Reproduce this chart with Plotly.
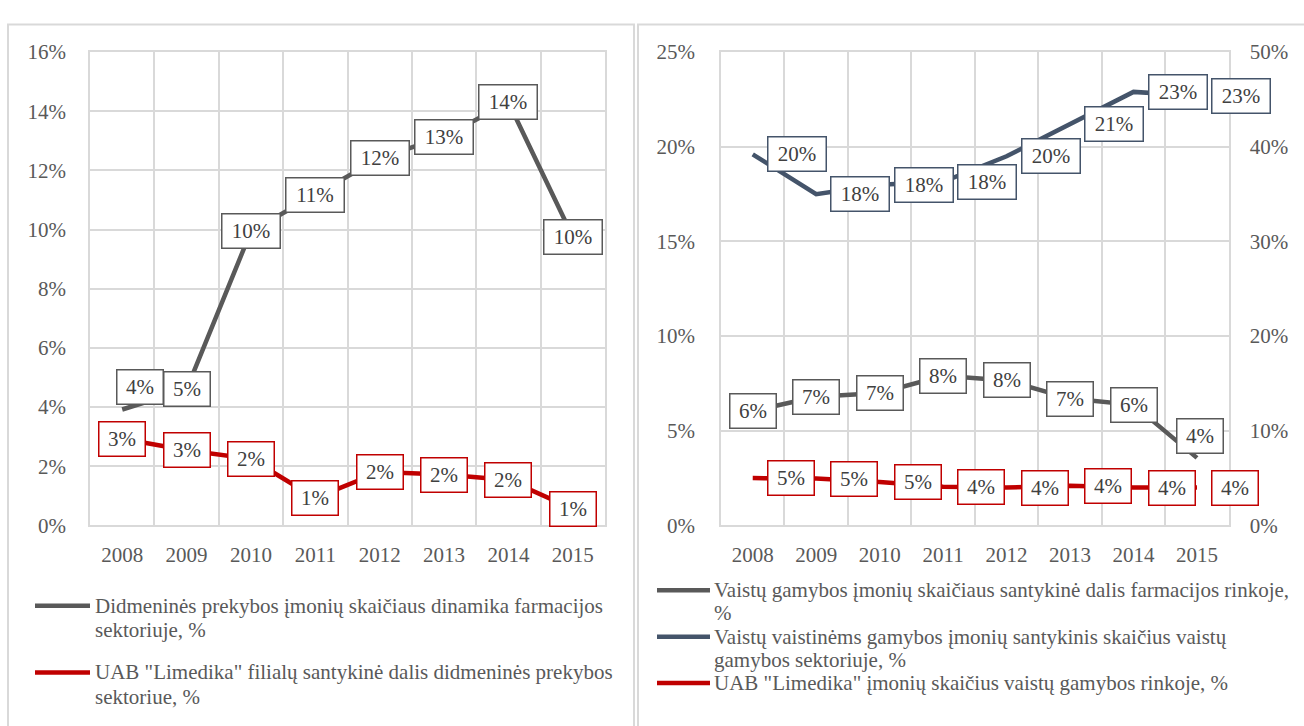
import plotly.graph_objects as go

# ---------------- data ----------------
years = ["2008", "2009", "2010", "2011", "2012", "2013", "2014", "2015"]

# left chart (percent)
wholesale_dynamics = [3.92, 4.6, 9.94, 11.17, 12.42, 13.14, 14.3, 9.76]
limedika_branches = [2.93, 2.54, 2.25, 0.93, 1.81, 1.72, 1.54, 0.56]

# right chart (percent)
manuf_share = [6.05, 6.8, 7.0, 7.9, 7.66, 6.7, 6.37, 3.57]
pharmacy_manuf = [19.6, 17.5, 18.0, 18.15, 19.5, 21.2, 22.9, 22.7]
limedika_manuf = [5.0, 4.95, 4.6, 4.1, 4.0, 4.2, 4.0, 4.0]   # secondary axis

left_ticks = [0, 2, 4, 6, 8, 10, 12, 14, 16]
right_ticks = [0, 5, 10, 15, 20, 25]
right2_ticks = [0, 10, 20, 30, 40, 50]

legend_left = [
    ["Didmeninės prekybos įmonių skaičiaus dinamika farmacijos", "sektoriuje, %"],
    ["UAB \"Limedika\" filialų santykinė dalis didmeninės prekybos", "sektoriue, %"],
]
legend_right = [
    ["Vaistų gamybos įmonių skaičiaus santykinė dalis farmacijos rinkoje,", "%"],
    ["Vaistų vaistinėms gamybos įmonių santykinis skaičius vaistų", "gamybos sektoriuje, %"],
    ["UAB \"Limedika\" įmonių skaičius vaistų gamybos rinkoje, %"],
]

# ---------------- styles ----------------
W, H = 1304, 726
GREY = "#595959"
BLUE = "#44546A"
RED = "#C00000"
GRID = "#D9D9D9"
FONT = "Liberation Serif, Times New Roman, DejaVu Serif, serif"
TICK_COLOR = "#595959"
LABEL_COLOR = "#404040"
FS = 21
LW = 4.5


def px(x):
    return x / W


def py(y):
    return 1 - y / H


def pct(v):
    return f"{v}%"


fig = go.Figure()

fig.add_trace(go.Scatter(x=years, y=wholesale_dynamics, mode="lines", xaxis="x", yaxis="y",
                         line=dict(color=GREY, width=LW), showlegend=False, hoverinfo="skip"))
fig.add_trace(go.Scatter(x=years, y=limedika_branches, mode="lines", xaxis="x", yaxis="y",
                         line=dict(color=RED, width=LW), showlegend=False, hoverinfo="skip"))
fig.add_trace(go.Scatter(x=years, y=manuf_share, mode="lines", xaxis="x2", yaxis="y2",
                         line=dict(color=GREY, width=LW), showlegend=False, hoverinfo="skip"))
fig.add_trace(go.Scatter(x=years, y=pharmacy_manuf, mode="lines", xaxis="x2", yaxis="y2",
                         line=dict(color=BLUE, width=LW), showlegend=False, hoverinfo="skip"))
fig.add_trace(go.Scatter(x=years, y=limedika_manuf, mode="lines", xaxis="x2", yaxis="y3",
                         line=dict(color=RED, width=LW), showlegend=False, hoverinfo="skip"))

annotations = []


def add_labels(values, xref, yref, color, anchor="center", xshifts=None, yshifts=None):
    for i, (cat, v) in enumerate(zip(years, values)):
        txt = f"{int(v + 0.5)}%"
        w = 43 if len(txt) == 2 else 55
        xs = 14 if anchor == "left" else 0
        if xshifts:
            xs += xshifts[i]
        ys = yshifts[i] if yshifts else 0
        annotations.append(dict(
            x=i, y=v, xref=xref, yref=yref, text=txt, showarrow=False,
            xanchor=anchor, yanchor="middle", xshift=xs, yshift=ys,
            width=w, height=31, align="center", valign="middle",
            font=dict(family=FONT, size=FS, color=LABEL_COLOR),
            bgcolor="white", bordercolor=color, borderwidth=1.5, borderpad=1))


add_labels(wholesale_dynamics, "x", "y", GREY,
           xshifts=[18, 0, 0, 0, 0, 0, 0, 0], yshifts=[22, 0, 0, 0, 0, 0, 0, 0])
add_labels(limedika_branches, "x", "y", RED)
add_labels(manuf_share, "x2", "y2", GREY,
           xshifts=[0, 0, 0, 0, 0, 0, 0, 3], yshifts=[0, 0, 0, 0, 0, 0, 0, 22])
add_labels(pharmacy_manuf, "x2", "y2", BLUE, anchor="left")
add_labels(limedika_manuf, "x2", "y3", RED, anchor="left")

shapes = []
# panel borders
shapes.append(dict(type="rect", xref="paper", yref="paper", x0=px(8), x1=px(634), y0=py(740), y1=py(13),
                   line=dict(color=GRID, width=2), layer="below"))
shapes.append(dict(type="rect", xref="paper", yref="paper", x0=px(638), x1=px(1320), y0=py(740), y1=py(13),
                   line=dict(color=GRID, width=2), layer="below"))


def add_legend(entries, colors, sx0, sx1, tx, ys_first, line_gap):
    for entry, color, y0 in zip(entries, colors, ys_first):
        shapes.append(dict(type="line", xref="paper", yref="paper", x0=px(sx0), x1=px(sx1),
                           y0=py(y0), y1=py(y0), line=dict(color=color, width=LW)))
        for k, line in enumerate(entry):
            annotations.append(dict(x=px(tx), y=py(y0 + k * line_gap), xref="paper", yref="paper",
                                    text=line, showarrow=False, xanchor="left", yanchor="middle",
                                    font=dict(family=FONT, size=FS, color=TICK_COLOR)))


add_legend(legend_left, [GREY, RED], 35, 90, 93, [614, 683], 25.5)
add_legend(legend_right, [GREY, BLUE, RED], 657, 710, 712, [598, 646, 694], 24)

tickfont = dict(family=FONT, size=FS, color=TICK_COLOR)
ydom = [py(531), py(41.5)]

xaxis_common = dict(type="category", tickson="boundaries", showgrid=True, gridcolor=GRID, gridwidth=1.5,
                    showline=True, linecolor=GRID, linewidth=1.5, mirror=True, ticks="",
                    tickfont=tickfont, range=[-0.5, 7.5], ticklabelstandoff=10, fixedrange=True)
yaxis_common = dict(showgrid=True, gridcolor=GRID, gridwidth=1.5, zeroline=False, ticks="",
                    showline=True, linecolor=GRID, linewidth=1.5, mirror=True,
                    tickfont=tickfont, tickmode="array", fixedrange=True)

fig.update_layout(
    width=W, height=H, margin=dict(l=0, r=0, t=0, b=0),
    paper_bgcolor="white", plot_bgcolor="white",
    showlegend=False,
    font=dict(family=FONT, size=FS, color=TICK_COLOR),
    xaxis=dict(domain=[px(90), px(605)], anchor="y", **xaxis_common),
    yaxis=dict(domain=ydom, anchor="x", range=[0, 16], tickvals=left_ticks,
               ticktext=[pct(t) for t in left_ticks], ticklabelstandoff=18, **yaxis_common),
    xaxis2=dict(domain=[px(721), px(1228.7)], anchor="y2", **xaxis_common),
    yaxis2=dict(domain=ydom, anchor="x2", range=[0, 25], tickvals=right_ticks,
                ticktext=[pct(t) for t in right_ticks], ticklabelstandoff=20, **yaxis_common),
    yaxis3=dict(overlaying="y2", anchor="x2", side="right", range=[0, 50], tickvals=right2_ticks,
                ticktext=[pct(t) for t in right2_ticks], tickmode="array",
                showgrid=False, zeroline=False, ticks="", showline=False,
                tickfont=tickfont, ticklabelstandoff=20, fixedrange=True),
    annotations=annotations,
    shapes=shapes,
)

fig.write_html("out.html")
